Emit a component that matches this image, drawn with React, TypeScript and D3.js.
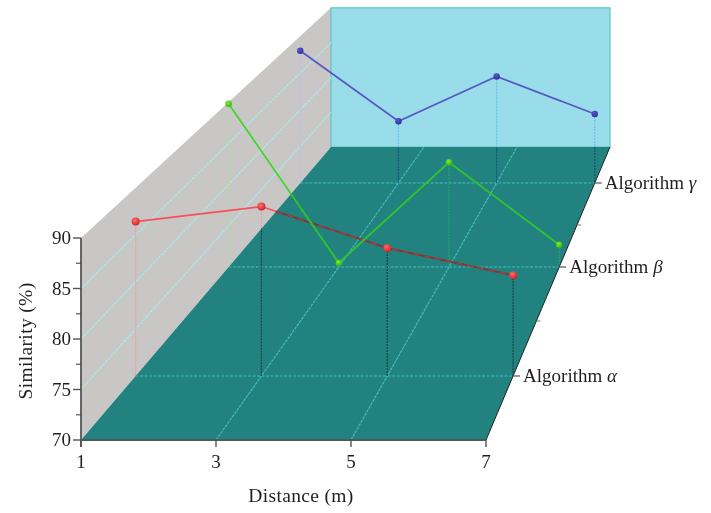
import React from "react";
import * as D3 from "d3";

const distances = [1, 3, 5, 7];
const yTicks = [70, 75, 80, 85, 90];
const yMinor = [72.5, 77.5, 82.5, 87.5];
const algorithms = ["α", "β", "γ"];
const alpha = [86.4, 88, 83.6, 80.7];
const beta = [89.8, 70.5, 82.7, 72.7];
const gamma = [88, 78.4, 84.5, 79.4];
const rowScreenY = [376, 267, 183];
const midRows = [321, 225];

const W = 711, H = 513;
const x0 = 81, x1 = 486, yFront = 440, yBack = 147, backL = 331, backR = 610, yTop = 238;
const sBack = (backR - backL) / (x1 - x0);

const depth = D3.scaleLinear().domain([yFront, yBack]).range([0, 1]);
const scaleAt = D3.scaleLinear().domain([0, 1]).range([1, sBack]);
const leftAt = D3.scaleLinear().domain([0, 1]).range([x0, backL]);
const xs = D3.scaleLinear().domain([1, 7]).range([0, x1 - x0]);
const ys = D3.scaleLinear().domain([70, 90]).range([0, yFront - yTop]);

function project(d: number, v: number, rowY: number): [number, number] {
  const t = depth(rowY);
  const s = scaleAt(t);
  return [leftAt(t) + s * xs(d), rowY - s * ys(v)];
}

const line = D3.line<[number, number]>();
const poly = (p: [number, number][]) => line(p) + "Z";

const floorPts: [number, number][] = [[x0, yFront], [x1, yFront], [backR, yBack], [backL, yBack]];
const leftPts: [number, number][] = [[x0, yFront], [x0, yTop], [backL, project(1, 90, yBack)[1]], [backL, yBack]];
const backPts: [number, number][] = [project(1, 90, yBack), project(7, 90, yBack), [backR, yBack], [backL, yBack]];

const series = [
  { name: "alpha", values: alpha, row: rowScreenY[0], r: 4, wall: "#fa5058", floor: "#7a3a3c", core: "#d8383c", dropWall: "#f59aa4", dropBack: "#f59aa4", dropFloor: "#174548", light: "#ff7070", dark: "#c81e1e" },
  { name: "beta", values: beta, row: rowScreenY[1], r: 3.2, wall: "#3fd62a", floor: "#30c030", core: "#30c030", dropWall: "#aedca4", dropBack: "#aedca4", dropFloor: "#26a868", light: "#80ee30", dark: "#30b010" },
  { name: "gamma", values: gamma, row: rowScreenY[2], r: 3.2, wall: "#5a58c4", floor: "#3f63b8", core: "#3f63b8", dropWall: "#c4bdec", dropBack: "#6cc4e4", dropFloor: "#14527e", light: "#5a5ad8", dark: "#2a2a90" },
];

const serif = "'Liberation Serif', serif";
const textColor = "#231f20";

export default function App() {
  return (
    <svg width={W} height={H} viewBox={`0 0 ${W} ${H}`} style={{ position: "absolute", left: 0, top: 0, background: "#fff" }} fontFamily={serif} fill={textColor}>
      <defs>
        <clipPath id="floorClip"><path d={poly(floorPts)} /></clipPath>
        <clipPath id="leftClip"><path d={poly(leftPts)} /></clipPath>
        <clipPath id="backClip"><path d={poly(backPts)} /></clipPath>
        <clipPath id="aboveClip"><path d={`M0 0H${W}V${H}H0Z ${poly(floorPts)}`} clipRule="evenodd" /></clipPath>
        {series.map((s) => (
          <radialGradient key={s.name} id={`ball-${s.name}`} cx="0.4" cy="0.35" r="0.7">
            <stop offset="0" stopColor={s.light} />
            <stop offset="1" stopColor={s.dark} />
          </radialGradient>
        ))}
        <filter id="soft" x="-5%" y="-5%" width="110%" height="110%"><feGaussianBlur stdDeviation="0.45" /></filter>
      </defs>

      <g filter="url(#soft)">
        <path d={poly(leftPts)} fill="#c8c7c6" />
        <path d={poly(backPts)} fill="#98dde9" stroke="#62c4c6" strokeWidth={1.2} />
        <path d={poly(floorPts)} fill="#24827f" />

        {yTicks.slice(1, 4).map((v) => (
          <line key={v} x1={x0} y1={yFront - ys(v)} x2={backL} y2={project(1, v, yBack)[1]} stroke="#a6eaec" strokeWidth={1.3} strokeDasharray="3 1" />
        ))}
        {distances.slice(1, 3).map((d) => (
          <line key={d} x1={project(d, 70, yFront)[0]} y1={yFront} x2={project(d, 70, yBack)[0]} y2={yBack} stroke="#40bcc0" strokeWidth={1.2} strokeDasharray="3 1" />
        ))}
        {rowScreenY.map((y) => (
          <line key={y} x1={project(1, 70, y)[0]} y1={y} x2={project(7, 70, y)[0]} y2={y} stroke="#40bcc0" strokeWidth={1.2} strokeDasharray="3 1.5" />
        ))}

        {series.map((s) => s.values.map((v, i) => {
          const a = project(distances[i], v, s.row);
          const b = project(distances[i], 70, s.row);
          return (
            <g key={s.name + i} strokeWidth={1.2} strokeDasharray="2 1">
              <line x1={a[0]} y1={a[1]} x2={b[0]} y2={b[1]} stroke={s.dropWall} clipPath="url(#leftClip)" />
              <line x1={a[0]} y1={a[1]} x2={b[0]} y2={b[1]} stroke={s.dropBack} clipPath="url(#backClip)" />
              <line x1={a[0]} y1={a[1]} x2={b[0]} y2={b[1]} stroke={s.dropFloor} clipPath="url(#floorClip)" />
            </g>
          );
        }))}

        {series.map((s) => {
          const d = line(s.values.map((v, i) => project(distances[i], v, s.row))) as string;
          return (
            <g key={s.name} fill="none">
              <path d={d} stroke={s.wall} strokeWidth={1.7} clipPath="url(#aboveClip)" />
              <path d={d} stroke={s.floor} strokeWidth={2} clipPath="url(#floorClip)" />
              {s.name === "alpha" && <path d={d} stroke={s.core} strokeWidth={0.8} strokeDasharray="6 5" clipPath="url(#floorClip)" />}
            </g>
          );
        })}
        {series.map((s) => s.values.map((v, i) => {
          const p = project(distances[i], v, s.row);
          return <circle key={s.name + i} cx={p[0]} cy={p[1]} r={s.r} fill={`url(#ball-${s.name})`} />;
        }))}

        <line x1={x0} y1={yTop} x2={x0} y2={yFront + 7} stroke="#555" strokeWidth={1.8} />
        <line x1={x0} y1={yFront} x2={x1} y2={yFront} stroke="#4a5a5a" strokeWidth={1.8} />
        <line x1={x1} y1={yFront} x2={backR} y2={yBack} stroke="#222" strokeWidth={1} />
        {yTicks.map((v) => (
          <line key={v} x1={x0 - 8} y1={yFront - ys(v)} x2={x0} y2={yFront - ys(v)} stroke="#555" strokeWidth={1.4} />
        ))}
        {yMinor.map((v) => (
          <line key={v} x1={x0 - 5} y1={yFront - ys(v)} x2={x0} y2={yFront - ys(v)} stroke="#555" strokeWidth={1.2} />
        ))}
        {distances.map((d) => (
          <line key={d} x1={x0 + xs(d)} y1={yFront} x2={x0 + xs(d)} y2={yFront + 7} stroke="#555" strokeWidth={1.4} />
        ))}
        {rowScreenY.map((y) => {
          const p = project(7, 70, y);
          return <line key={y} x1={p[0]} y1={y} x2={p[0] + 7} y2={y} stroke="#555" strokeWidth={1.2} />;
        })}
        {midRows.map((y) => {
          const p = project(7, 70, y);
          return <line key={y} x1={p[0]} y1={y} x2={p[0] + 4} y2={y} stroke="#777" strokeWidth={1} />;
        })}

        <g fontSize={19}>
          {yTicks.map((v) => (
            <text key={v} x={71} y={yFront - ys(v) + 6} textAnchor="end">{v}</text>
          ))}
          {distances.map((d) => (
            <text key={d} x={x0 + xs(d)} y={468} textAnchor="middle">{d}</text>
          ))}
          {algorithms.map((a, i) => {
            const p = project(7, 70, rowScreenY[i]);
            return (
              <text key={a} x={p[0] + 10} y={rowScreenY[i] + 6}>
                Algorithm <tspan fontStyle="italic">{a}</tspan>
              </text>
            );
          })}
        </g>
        <text x={301} y={502} fontSize={19.5} letterSpacing={0.35} textAnchor="middle">Distance (m)</text>
        <text transform="translate(32,341) rotate(-90)" fontSize={19.5} letterSpacing={0.35} textAnchor="middle">Similarity (%)</text>
      </g>
    </svg>
  );
}
